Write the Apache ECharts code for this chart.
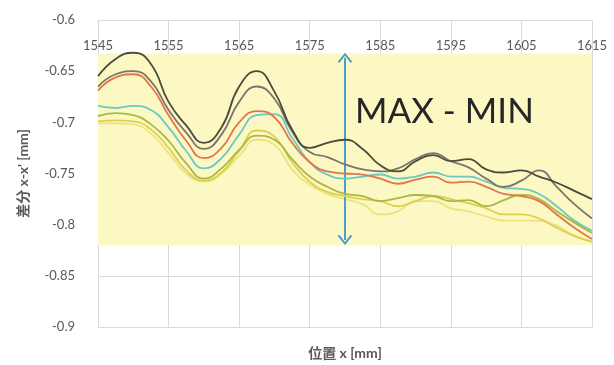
<!DOCTYPE html>
<html>
<head>
<meta charset="utf-8">
<script src="https://cdn.jsdelivr.net/npm/echarts@6/dist/echarts.min.js"></script>
<style>
html,body{margin:0;padding:0;background:#fff;}
#chart{width:614px;height:365px;}
</style>
</head>
<body>
<div id="chart"></div>
<script>
const positions = [1545,1547.5,1550,1552.5,1555,1557.5,1560,1562.5,1565,1567.5,1570,1572.5,1575,1577.5,1580,1582.5,1585,1587.5,1590,1592.5,1595,1597.5,1600,1602.5,1605,1607.5,1610,1612.5,1615];

const seriesDark = [-0.655,-0.638,-0.632,-0.643,-0.680,-0.703,-0.720,-0.705,-0.665,-0.650,-0.670,-0.707,-0.725,-0.720,-0.717,-0.726,-0.742,-0.748,-0.738,-0.732,-0.738,-0.736,-0.746,-0.749,-0.747,-0.753,-0.759,-0.767,-0.775];
const seriesGray = [-0.665,-0.653,-0.650,-0.660,-0.688,-0.710,-0.726,-0.712,-0.680,-0.665,-0.677,-0.709,-0.729,-0.734,-0.741,-0.746,-0.748,-0.745,-0.736,-0.730,-0.738,-0.744,-0.755,-0.763,-0.757,-0.747,-0.763,-0.780,-0.794];
const seriesOrange = [-0.669,-0.656,-0.653,-0.665,-0.693,-0.718,-0.735,-0.725,-0.700,-0.689,-0.695,-0.720,-0.739,-0.748,-0.750,-0.751,-0.755,-0.760,-0.756,-0.753,-0.759,-0.758,-0.763,-0.770,-0.772,-0.777,-0.790,-0.803,-0.814];
const seriesTeal = [-0.684,-0.686,-0.684,-0.688,-0.705,-0.728,-0.745,-0.735,-0.712,-0.693,-0.692,-0.715,-0.739,-0.751,-0.755,-0.753,-0.751,-0.755,-0.753,-0.749,-0.753,-0.753,-0.758,-0.764,-0.765,-0.770,-0.782,-0.796,-0.806];
const seriesGreen = [-0.694,-0.691,-0.693,-0.702,-0.718,-0.740,-0.755,-0.745,-0.727,-0.713,-0.717,-0.736,-0.753,-0.763,-0.770,-0.772,-0.777,-0.774,-0.771,-0.772,-0.777,-0.776,-0.782,-0.776,-0.771,-0.775,-0.787,-0.798,-0.808];
const seriesYellow = [-0.699,-0.698,-0.699,-0.707,-0.725,-0.747,-0.757,-0.749,-0.728,-0.708,-0.714,-0.739,-0.758,-0.768,-0.772,-0.775,-0.777,-0.782,-0.777,-0.772,-0.775,-0.779,-0.784,-0.790,-0.790,-0.794,-0.803,-0.811,-0.817];
const seriesLightYellow = [-0.701,-0.701,-0.702,-0.711,-0.730,-0.750,-0.758,-0.750,-0.733,-0.717,-0.722,-0.746,-0.761,-0.770,-0.775,-0.780,-0.790,-0.787,-0.777,-0.777,-0.784,-0.787,-0.792,-0.796,-0.796,-0.796,-0.801,-0.811,-0.816];

const xTicks = {min:1545, max:1615, step:10};
const yTicks = {min:-0.9, max:-0.6, step:0.05};
const bandRange = [-0.633, -0.82];
const arrowX = 1580;
const arrowRange = [-0.637, -0.815];
const annotationText = 'MAX - MIN';
const xTitle = '位置 x [mm]';
const yTitle = "差分 x-x' [mm]";

const allSeries = [
  {name:'s1', values: seriesDark, color:'#4b4a3c'},
  {name:'s2', values: seriesGray, color:'#7d746a'},
  {name:'s3', values: seriesOrange, color:'#e2744e'},
  {name:'s4', values: seriesTeal, color:'#6cc8c2'},
  {name:'s5', values: seriesGreen, color:'#a9b844'},
  {name:'s6', values: seriesYellow, color:'#ddd04a'},
  {name:'s7', values: seriesLightYellow, color:'#ece27e'}
];

const chart = echarts.init(document.getElementById('chart'), null, {renderer:'canvas'});
const font = "Lato, 'Noto Sans CJK JP', sans-serif";

const series = allSeries.map((s, i) => ({
  type:'line',
  name:s.name,
  xAxisIndex:0,
  data: positions.map((p, k) => [p, s.values[k]]),
  smooth:0.5,
  showSymbol:false,
  lineStyle:{color:s.color, width:1.8},
  itemStyle:{color:s.color},
  z: 3 + (allSeries.length - i)
}));

const chevron = 'path://M0,10 L5,0 L10,10 L8.6,10.9 L5,3.2 L1.4,10.9 Z';
series[0].markArea = {
  silent:true,
  itemStyle:{color:'#fcf8c4'},
  data:[[{xAxis:xTicks.min, yAxis:bandRange[0]},{xAxis:xTicks.max, yAxis:bandRange[1]}]]
};
series[0].markLine = {
  silent:true,
  symbol:[chevron, chevron],
  symbolSize:[15,10],
  label:{show:false},
  lineStyle:{color:'#4c9ccc', width:2, type:'solid'},
  data:[[{coord:[arrowX, arrowRange[0]]},{coord:[arrowX, arrowRange[1]]}]]
};

chart.setOption({
  animation:false,
  backgroundColor:'#ffffff',
  textStyle:{fontFamily:font},
  grid:{left:98, right:22, top:20, bottom:32, show:false},
  xAxis:[{
    type:'value', position:'top',
    min:xTicks.min, max:xTicks.max, interval:xTicks.step,
    axisLine:{show:true, lineStyle:{color:'#d9d9d9'}},
    axisTick:{show:false},
    axisLabel:{inside:true, margin:19, color:'#595959', fontSize:13, fontFamily:font,
      formatter: v => String(v)},
    splitLine:{show:true, lineStyle:{color:'#d9d9d9', width:1}}
  },{
    type:'value', position:'bottom',
    min:xTicks.min, max:xTicks.max,
    axisLine:{show:true, lineStyle:{color:'#d9d9d9'}},
    axisTick:{show:false}, axisLabel:{show:false}, splitLine:{show:false},
    name:xTitle, nameLocation:'middle', nameGap:19,
    nameTextStyle:{color:'#595959', fontSize:14, fontWeight:'bold', fontFamily:font}
  }],
  yAxis:{
    type:'value', min:yTicks.min, max:yTicks.max, interval:yTicks.step,
    axisLine:{show:true, lineStyle:{color:'#d9d9d9'}},
    axisTick:{show:false},
    axisLabel:{margin:23, color:'#595959', fontSize:13, fontFamily:font,
      formatter: v => String(Math.round(v*100)/100)},
    splitLine:{show:true, lineStyle:{color:'#d9d9d9', width:1}},
    name:yTitle, nameLocation:'middle', nameGap:68, nameRotate:90,
    nameTextStyle:{color:'#595959', fontSize:14, fontWeight:'bold', fontFamily:font}
  },
  graphic:[{
    type:'text', left:355, top:94, z:20,
    style:{text:annotationText, fontSize:35, fill:'#262626', fontFamily:font}
  }],
  series: series
});
</script>
</body>
</html>
